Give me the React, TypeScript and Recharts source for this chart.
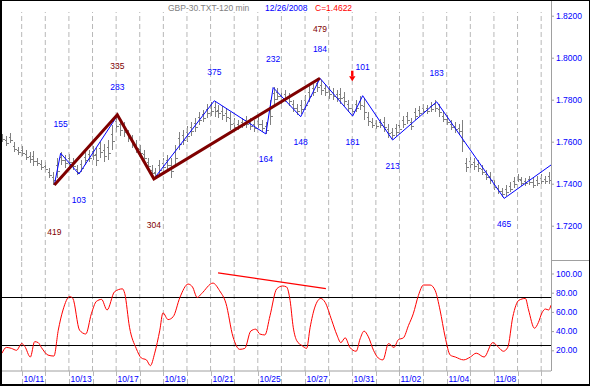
import React from 'react';
import { ComposedChart, Bar, Line, Scatter, XAxis, YAxis, ReferenceLine } from 'recharts';

const FONT = '"Liberation Sans", Arial, sans-serif';
const BLUE = '#0000ff';
const MAROON = '#7f0000';

// price bars, one per 4-hour slot (slot 0 sits on the left edge of the plot)
const barHigh = [
  1.7637, 1.7627, 1.7641, 1.7599, 1.7575, 1.758, 1.7561, 1.7551, 1.7556, 1.7523,
  1.7513, 1.7503, 1.7475, 1.7456, 1.7523, 1.7551, 1.7537, 1.7542, 1.7523, 1.7489,
  1.7513, 1.7551, 1.7561, 1.758, 1.757, 1.7599, 1.7589, 1.7608, 1.768, 1.7727,
  1.7713, 1.7694, 1.7656, 1.7632, 1.7608, 1.7584, 1.7561, 1.7523, 1.7489, 1.7475,
  1.7513, 1.7523, 1.7537, 1.7523, 1.7584, 1.7646, 1.7656, 1.7675, 1.7694, 1.7713,
  1.7742, 1.7751, 1.778, 1.7789, 1.7795, 1.7775, 1.777, 1.7761, 1.7742, 1.7713,
  1.7703, 1.7713, 1.7722, 1.7713, 1.7703, 1.7718, 1.7703, 1.7694, 1.7799, 1.7861,
  1.7856, 1.7837, 1.7846, 1.7832, 1.7799, 1.778, 1.7799, 1.7822, 1.7865, 1.7875,
  1.7903, 1.7894, 1.7875, 1.7865, 1.7856, 1.7846, 1.7856, 1.7837, 1.7799, 1.778,
  1.7799, 1.7818, 1.7808, 1.7742, 1.7713, 1.7703, 1.7708, 1.7718, 1.7684, 1.7665,
  1.7684, 1.7703, 1.7722, 1.7742, 1.7713, 1.7761, 1.777, 1.778, 1.7775, 1.7789,
  1.7799, 1.778, 1.7742, 1.7727, 1.7703, 1.7694, 1.7684, 1.7703, 1.7523, 1.7527,
  1.7523, 1.7513, 1.7489, 1.7465, 1.7456, 1.7418, 1.7394, 1.738, 1.7394, 1.7408,
  1.7432, 1.7446, 1.7432, 1.7427, 1.7437, 1.7427, 1.7437, 1.7446, 1.7437, 1.7456,
];
const barLow = [
  1.7599, 1.758, 1.7594, 1.7551, 1.7537, 1.7532, 1.7513, 1.7499, 1.7484, 1.7484,
  1.7465, 1.7456, 1.7427, 1.7394, 1.7427, 1.7489, 1.7475, 1.7484, 1.7465, 1.7442,
  1.7456, 1.7489, 1.7503, 1.7513, 1.7484, 1.7523, 1.7503, 1.7513, 1.7561, 1.7646,
  1.7627, 1.7622, 1.7599, 1.757, 1.7546, 1.7527, 1.7503, 1.7465, 1.7427, 1.7427,
  1.7442, 1.7456, 1.7465, 1.7427, 1.7489, 1.7561, 1.7584, 1.7599, 1.7627, 1.7646,
  1.768, 1.7694, 1.7713, 1.7722, 1.7718, 1.7713, 1.7703, 1.7694, 1.7656, 1.7646,
  1.7656, 1.7665, 1.7665, 1.7656, 1.7646, 1.7665, 1.7646, 1.7637, 1.768, 1.7775,
  1.7799, 1.778, 1.7789, 1.777, 1.7742, 1.7727, 1.7732, 1.7751, 1.7789, 1.7818,
  1.7837, 1.7822, 1.7818, 1.7803, 1.7799, 1.7789, 1.778, 1.777, 1.7742, 1.7727,
  1.7742, 1.7751, 1.7703, 1.7675, 1.7665, 1.766, 1.7665, 1.7646, 1.7618, 1.7613,
  1.7627, 1.7637, 1.7665, 1.7684, 1.7656, 1.7703, 1.7722, 1.7732, 1.7732, 1.7742,
  1.7742, 1.7718, 1.7694, 1.768, 1.7656, 1.7641, 1.7632, 1.7551, 1.7456, 1.7475,
  1.7465, 1.7456, 1.7442, 1.7418, 1.7399, 1.737, 1.7351, 1.7337, 1.7342, 1.7361,
  1.738, 1.7408, 1.7389, 1.7389, 1.7394, 1.738, 1.7389, 1.7399, 1.7399, 1.7399,
];

// blue swing line
const swingSlots = [13.3, 14.9, 19.55, 29.3, 38.6, 53.95, 67.05, 68.9, 75.9, 80.8, 89.1, 91.65, 99.25, 110.45, 127.6, 139.5];
const swingPrice = [1.7394, 1.7545, 1.7446, 1.7724, 1.7423, 1.7795, 1.7637, 1.7858, 1.7719, 1.7902, 1.7722, 1.7819, 1.7608, 1.779, 1.733, 1.7489];
const swingLabel = ['', '155', '103', '283', '', '375', '164', '232', '148', '184', '181', '101', '213', '183', '465', ''];

// dark red trend line
const trendSlots = [13.3, 29.3, 38.6, 80.8];
const trendPrice = [1.7394, 1.7728, 1.7423, 1.7902];
const trendLabel = ['419', '335', '304', '479'];

// sell signal
const signalSlots = [89];
const signalPrice = [1.7938];

// oscillator
const oscSlots = [
  0, 1.1, 2.4, 3.7, 5, 5.8, 7.2, 8.3, 9.2, 10, 11.7, 13.2, 14.3, 15.5, 17.2, 18, 19.7, 21.3, 22.7, 24,
  25.3, 26.7, 28.6, 30.6, 31.2, 32.4, 34.1, 35.4, 36.7, 37.7, 38.8, 40.1, 40.9, 42.2, 43.5, 45.2, 47.3, 48.4, 49.6, 50.7,
  53.6, 55.3, 56.9, 58.7, 60.4, 61.7, 63.2, 64.5, 65.5, 66.8, 68.1, 69.8, 71.3, 72.3, 73.2, 74, 74.9, 76.2, 77.4, 78.3,
  79.5, 81, 82.1, 83.8, 85.1, 86.1, 87.2, 88.4, 90, 91, 92, 93.1, 94.4, 95.6, 96.8, 98.2, 99.6, 100.7, 102, 103.3,
  104.5, 105.8, 107.1, 108.8, 110.1, 111.3, 112.6, 113.9, 115.2, 117.3, 119, 120.5, 122.5, 124.7, 126.2, 127.4, 128.5, 129.8, 131.3, 133,
  133.8, 135.3, 136.3, 137.2, 138.1, 138.9, 139.5,
];
const oscValues = [
  17, 23, 22, 20, 27, 24, 13, 29, 28, 23, 15, 14, 41, 62, 76, 74, 41, 37, 58, 71,
  73, 62, 81, 84, 79, 44, 22, 12, 10, 4, 17, 41, 59, 52, 55, 75, 89, 86, 75, 79,
  90, 82, 69, 34, 21, 22, 40, 42, 37, 36, 56, 84, 87, 86, 72, 44, 30, 25, 22, 44,
  65, 74, 70, 51, 36, 28, 33, 23, 19, 32, 40, 34, 20, 12, 10, 27, 23, 31, 33, 46,
  58, 77, 88, 88, 82, 62, 34, 15, 13, 10, 13, 17, 13, 28, 23, 19, 23, 55, 72, 74,
  62, 43, 49, 59, 63, 62, 67,
];
const divergenceSlots = [54.9, 82.3];
const divergenceValues = [100.7, 84.2];
const oscBands = [75, 25];

const gridSlots = [5, 11, 17, 23, 29, 35, 41, 47, 53, 59, 65, 71, 77, 83, 89, 95, 101, 107, 113, 119, 125, 131, 137];
const dateSlots = [5, 17, 29, 41, 53, 65, 77, 89, 101, 113, 125];
const dateNames = ['10/11', '10/13', '10/17', '10/19', '10/21', '10/25', '10/27', '10/31', '11/02', '11/04', '11/08'];
const priceTicks = [1.72, 1.74, 1.76, 1.78, 1.8, 1.82];
const oscTicks = [20, 40, 60, 80, 100];

const bars = barHigh.map((h, k) => ({ u: k, range: [barLow[k], h] }));
const swing = swingSlots.map((u, i) => ({ u, p: swingPrice[i] }));
const trend = trendSlots.map((u, i) => ({ u, p: trendPrice[i] }));
const isHigh = (arr: number[], i: number) => (i > 0 ? arr[i] > arr[i - 1] : arr[i] > arr[i + 1]);
const swingTags = swingSlots.map((u, i) => ({ u, p: swingPrice[i], text: swingLabel[i], up: isHigh(swingPrice, i) }));
const trendTags = trendSlots.map((u, i) => ({ u, p: trendPrice[i], text: trendLabel[i], up: isHigh(trendPrice, i) }));
const signals = signalSlots.map((u, i) => ({ u, p: signalPrice[i] }));
const osc = oscSlots.map((u, i) => ({ u, v: oscValues[i] }));
const divergence = divergenceSlots.map((u, i) => ({ u, v: divergenceValues[i] }));

const GRID = '#b8b8b8';
const AXIS = '#a0a0a0';

const PriceBar = (props: any) => {
  const { x, y, width, height } = props;
  if (x == null || y == null) return null;
  const cx = Math.round(x + width / 2) + 0.5;
  const top = Math.round(Math.min(y, y + height));
  const h = Math.max(Math.round(Math.abs(height)), 1);
  const o = Math.round(top + h * 0.35) + 0.5;
  const c = Math.round(top + h * 0.65) + 0.5;
  return (
    <g stroke="#808080" strokeWidth={1} shapeRendering="crispEdges">
      <line x1={cx} x2={cx} y1={top} y2={top + h} />
      <line x1={cx - 2} x2={cx} y1={o} y2={o} />
      <line x1={cx} x2={cx + 2} y1={c} y2={c} />
    </g>
  );
};

const makeTag = (color: string, upGap: number, downGap: number) => (props: any) => {
  const { cx, cy, payload } = props;
  if (!payload || !payload.text) return null;
  const ty = payload.up ? cy - upGap : cy + downGap;
  return (
    <text x={cx} y={ty} dy="0.36em" textAnchor="middle" fill={color} fontSize={8.5} fontFamily={FONT}>
      {payload.text}
    </text>
  );
};
const SwingTag = makeTag(BLUE, 29, 25.5);
const TrendTag = makeTag(MAROON, 49, 46.5);

const SignalArrow = (props: any) => {
  const { cx, cy } = props;
  return (
    <g fill="#ff0000">
      <rect x={cx - 1.2} y={cy} width={2.4} height={5.5} />
      <path d={`M${cx - 3.2},${cy + 5.5} L${cx + 3.2},${cy + 5.5} L${cx},${cy + 10.5} Z`} />
    </g>
  );
};

const RightTick = (digits: number) => (props: any) => {
  const { x, y, payload } = props;
  return (
    <g>
      <line x1={x} x2={x + 3} y1={y + 0.5} y2={y + 0.5} stroke={AXIS} />
      <text x={x + 5} y={y} dy="0.36em" fill={BLUE} fontSize={8.5} fontFamily={FONT}>
        {Number(payload.value).toFixed(digits)}
      </text>
    </g>
  );
};

const DateTick = (props: any) => {
  const { x, y, payload } = props;
  const idx = dateSlots.indexOf(payload.value);
  const gx = Math.round(x) + 0.5;
  return (
    <g>
      <line x1={gx} x2={gx} y1={y} y2={y + 14} stroke={GRID} strokeDasharray="5 3" />
      {idx >= 0 && (
        <text x={gx + 1} y={y + 10.5} fill={BLUE} fontSize={8.5} fontFamily={FONT}>
          {dateNames[idx]}
        </text>
      )}
    </g>
  );
};

export default function App() {
  return (
    <div style={{ position: 'absolute', left: 0, top: 0, width: 590, height: 386, background: '#fff', overflow: 'hidden', fontFamily: FONT }}>
      <div style={{ position: 'absolute', left: 0, top: 0 }}>
        <ComposedChart width={590} height={261} data={bars} margin={{ top: 12, right: 0, bottom: 0, left: 2 }}>
          <XAxis type="number" dataKey="u" domain={[0, 139.5]} allowDataOverflow hide />
          <YAxis
            orientation="right"
            width={39}
            domain={[1.70319, 1.82176]}
            allowDataOverflow
            ticks={priceTicks}
            tick={RightTick(4)}
            tickSize={0}
            tickMargin={0}
            axisLine={false}
            tickLine={false}
            interval={0}
          />
          {gridSlots.map((g) => (
            <ReferenceLine key={g} x={g} stroke={GRID} strokeDasharray="5 3" />
          ))}
          <Bar dataKey="range" barSize={4} shape={PriceBar} isAnimationActive={false} />
          <Line data={swing} dataKey="p" stroke={BLUE} strokeWidth={1} dot={false} isAnimationActive={false} />
          <Line data={trend} dataKey="p" stroke={MAROON} strokeWidth={3} dot={false} isAnimationActive={false} />
          <Scatter data={swingTags} dataKey="p" shape={SwingTag} isAnimationActive={false} />
          <Scatter data={trendTags} dataKey="p" shape={TrendTag} isAnimationActive={false} />
          <Scatter data={signals} dataKey="p" shape={SignalArrow} isAnimationActive={false} />
        </ComposedChart>
      </div>
      <div style={{ position: 'absolute', left: 0, top: 261 }}>
        <ComposedChart width={590} height={125} data={osc} margin={{ top: 0, right: 0, bottom: 1, left: 2 }}>
          <XAxis
            type="number"
            dataKey="u"
            domain={[0, 139.5]}
            allowDataOverflow
            ticks={gridSlots}
            interval={0}
            height={14}
            tickSize={0}
            tickMargin={0}
            tickLine={false}
            axisLine={{ stroke: AXIS }}
            tick={DateTick}
          />
          <YAxis
            orientation="right"
            width={39}
            domain={[-1.56, 113.02]}
            allowDataOverflow
            ticks={oscTicks}
            tick={RightTick(2)}
            tickSize={0}
            tickMargin={0}
            axisLine={false}
            tickLine={false}
            interval={0}
          />
          {gridSlots.map((g) => (
            <ReferenceLine key={g} x={g} stroke={GRID} strokeDasharray="5 3" />
          ))}
          {oscBands.map((b) => (
            <ReferenceLine key={b} y={b} stroke="#000" strokeWidth={1} shapeRendering="crispEdges" />
          ))}
          <Line data={divergence} dataKey="v" stroke="#ff0000" strokeWidth={1.3} dot={false} isAnimationActive={false} />
          <Line dataKey="v" type="monotone" stroke="#ff0000" strokeWidth={1} dot={false} isAnimationActive={false} />
        </ComposedChart>
      </div>
      <svg width={590} height={386} style={{ position: 'absolute', left: 0, top: 0, pointerEvents: 'none' }}>
        <line x1={551.5} x2={551.5} y1={1} y2={371} stroke={AXIS} />
        <line x1={551} x2={590} y1={260.5} y2={260.5} stroke={AXIS} />
        <text x={168} y={11} fill="#808080" fontSize={8.5} fontFamily={FONT}>GBP-30.TXT-120 min</text>
        <text x={265} y={11} fill={BLUE} fontSize={8.5} fontFamily={FONT}>12/26/2008</text>
        <text x={315} y={11} fill="#ff0000" fontSize={8.5} fontFamily={FONT}>C=1.4622</text>
      </svg>
      <div
        style={{
          position: 'absolute', left: 0, top: 0, width: 590, height: 386, boxSizing: 'border-box',
          borderStyle: 'solid', borderColor: '#000', borderWidth: '1px 1px 2px 2px', pointerEvents: 'none',
        }}
      />
    </div>
  );
}
